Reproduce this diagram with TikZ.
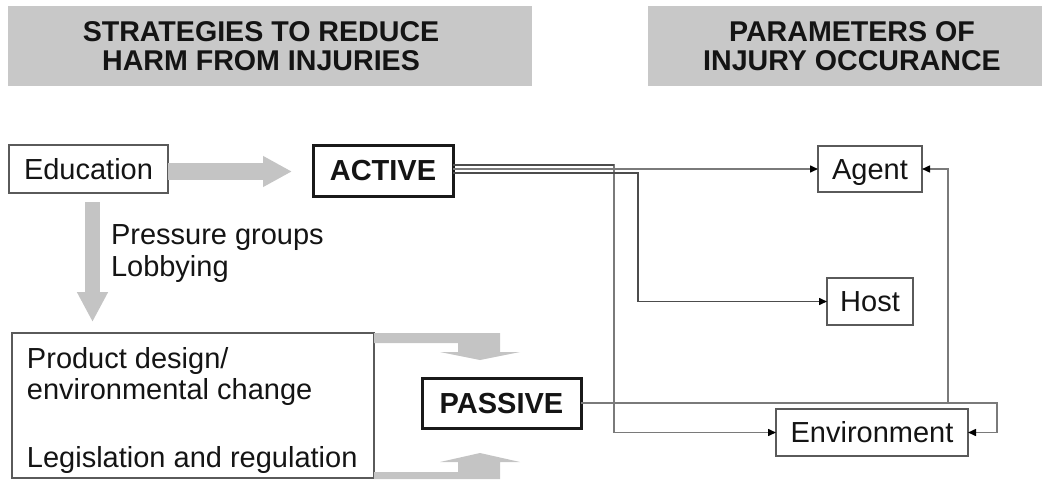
\documentclass[tikz,border=0pt]{standalone}
\usepackage{fontspec}
\setmainfont{Liberation Sans}
\usetikzlibrary{arrows.meta,calc}
\definecolor{hdrgray}{HTML}{C8C8C8}
\definecolor{fatgray}{HTML}{C4C4C4}
\definecolor{linegray}{HTML}{7A7A7A}
\definecolor{boxline}{HTML}{5A5A5A}
\begin{document}
\begin{tikzpicture}[x=1pt,y=-1pt,
  every node/.style={inner sep=0pt, outer sep=0pt, text=black!92},
  txt/.style={font=\fontsize{29}{33}\selectfont},
  hdrtxt/.style={font=\fontsize{28.6}{33}\selectfont\bfseries, anchor=base},
  hdrbox/.style={fill=hdrgray},
  box/.style={draw=boxline, line width=1.4pt, fill=white, txt, text height=20.8pt, text depth=0pt},
  thickbox/.style={draw=black!90, line width=3pt, fill=white, font=\fontsize{29}{33}\selectfont\bfseries, text height=20.8pt, text depth=0pt},
  conn/.style={draw=linegray, line width=1.5pt},
  darkconn/.style={draw=black!70, line width=1.5pt},
  tip/.style={-{Triangle[length=8pt,width=7pt,fill=black,color=black]}},
  fatright/.style={draw=fatgray, line width=17pt, -{Triangle[length=29pt 0,width=29pt 0]}},
  fatdown/.style={draw=fatgray, line width=15pt, -{Triangle[length=30pt 0,width=29pt 0]}}
]
\useasboundingbox (0,0) rectangle (1046,479);

% headers
\node[hdrbox, minimum width=524pt, minimum height=80pt] (hl) at (270,46) {};
\node[hdrtxt] (hl1) at (261,41) {STRATEGIES TO REDUCE};
\node[hdrtxt] (hl2) at (261,70) {HARM FROM INJURIES};
\node[hdrbox, minimum width=394pt, minimum height=80pt] (hr) at (845,46) {};
\node[hdrtxt] (hr1) at (852,41) {PARAMETERS OF};
\node[hdrtxt] (hr2) at (852,70) {INJURY OCCURANCE};

% boxes
\node[box, minimum width=159pt, minimum height=48pt] (edu) at (88.5,169) {Education};
\node[thickbox, minimum width=140pt, minimum height=51pt] (active) at (383,170.5) {ACTIVE};
\node[box, minimum width=104pt, minimum height=46pt] (agent) at (870,169) {Agent};
\node[box, minimum width=86pt, minimum height=47pt] (host) at (870,301.5) {Host};
\node[box, minimum width=192pt, minimum height=47pt] (env) at (872,432.5) {Environment};
\node[thickbox, minimum width=159pt, minimum height=50pt] (passive) at (501.5,403) {PASSIVE};
\node[draw=boxline, line width=1.4pt, minimum width=362pt, minimum height=145pt, anchor=north west] (prod) at (12,333) {};

% texts
\node[txt, anchor=base west] (pg1) at (111,244) {Pressure groups};
\node[txt, anchor=base west] (pg2) at (111,276) {Lobbying};
\node[txt, anchor=base west] (pd1) at (27,368) {Product design/};
\node[txt, anchor=base west] (pd2) at (27,399) {environmental change};
\node[txt, anchor=base west] (pd3) at (27,467) {Legislation and regulation};

% fat gray arrows
\draw[fatright] ($(edu.east)+(0,2.5)$) -- ($(active.west |- edu.east)+(-21,2.5)$);
\draw[fatdown] ($(edu.south)+(4,9)$) -- ($(edu.south |- prod.north)+(4,-11)$);
\fill[fatgray, shift={(prod.north east)}]
  (0,0) -- (126,0) -- (126,19) -- (146,19) -- (106,27) -- (66,19) -- (84,19) -- (84,10) -- (0,10) -- cycle;
\fill[fatgray, shift={(prod.south east)}]
  (0,1) -- (126,1) -- (126,-16) -- (146,-16) -- (106,-25) -- (66,-16) -- (84,-16) -- (84,-6) -- (0,-6) -- cycle;

% junction points
\coordinate (j1) at (614,165);
\coordinate (j3) at (638,173);
\coordinate (j4) at (948,403);
\coordinate (j5) at (997,403);

% connectors from ACTIVE
\draw[conn, tip] (active.east |- j1) -- (j1) |- (env.west);
\draw[darkconn] (active.east |- j1) -- (j1);
\draw[conn, tip] (active.east |- agent.west) -- (agent.west);
\draw[darkconn, tip] (active.east |- j3) -- (j3) |- (host.west);

% connectors from PASSIVE
\draw[conn, tip] (passive.east) -- (j4) |- (agent.east);
\draw[conn, tip] (j4) -- (j5) |- (env.east);
\end{tikzpicture}
\end{document}
